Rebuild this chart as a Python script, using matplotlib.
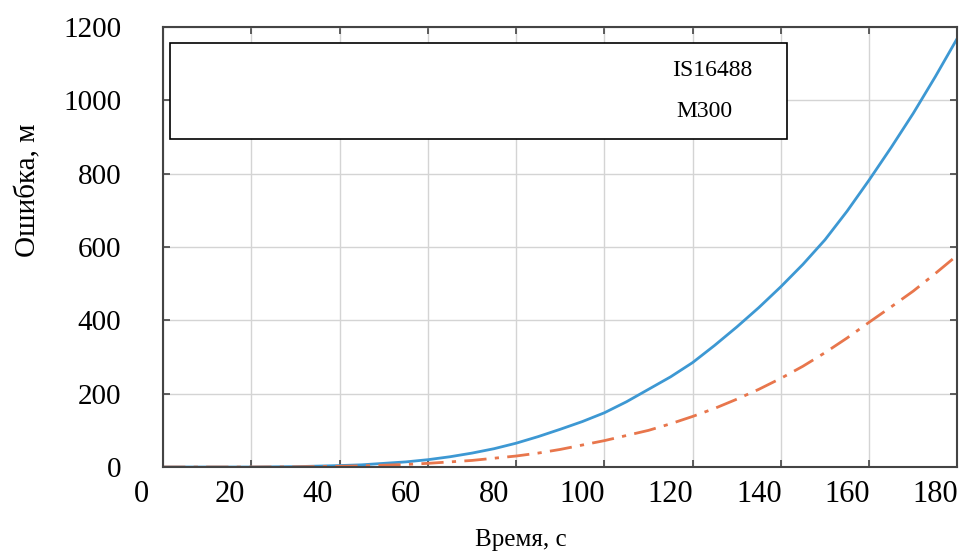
import matplotlib.pyplot as plt
import matplotlib.transforms as mtransforms
from matplotlib.patches import Rectangle

plt.rcParams["font.family"] = ["Liberation Serif", "DejaVu Serif"]

# time, s
t = [0, 10, 20, 30, 40, 45, 50, 55, 60, 65, 70, 75, 80, 85, 90, 95, 100, 105, 110,
     115, 120, 125, 130, 135, 140, 145, 150, 155, 160, 165, 170, 175, 180]
# error, m
err_is16488 = [0, 0, 0, 1, 4, 6, 10, 14, 20, 28, 38, 50, 65, 83, 103, 124, 148, 178, 212,
               246, 285, 332, 382, 435, 492, 553, 620, 698, 783, 872, 965, 1065, 1170]
err_m300 = [0, 0, 0, 0.5, 2, 3, 5, 7, 10, 14, 18, 24, 30, 38, 48, 60, 72, 86, 100,
            118, 138, 160, 185, 212, 242, 275, 312, 352, 395, 437, 480, 528, 578]
legend_labels = ["IS16488", "M300"]
x_ticks = [0, 20, 40, 60, 80, 100, 120, 140, 160, 180]
y_ticks = [0, 200, 400, 600, 800, 1000, 1200]

fig = plt.figure(figsize=(9.71, 5.54), dpi=100)
ax = fig.add_axes([0.168, 0.157, 0.818, 0.794])

ax.plot(t, err_is16488, color="#3d98d3", lw=2.0)
ax.plot(t, err_m300, color="#e8764c", lw=2.0, linestyle=(0, (8, 3, 1.5, 3)))

ax.set_xlim(0, 180)
ax.set_ylim(0, 1200)
ax.set_xticks(x_ticks)
ax.set_yticks(y_ticks)
ax.grid(True, color="#d4d4d4", lw=1.0)
ax.set_axisbelow(True)

for s in ax.spines.values():
    s.set_color("#444444")
    s.set_linewidth(1.5)
ax.tick_params(axis="both", direction="in", length=5, width=1.2, color="#444444",
               top=True, right=True, labelsize=21)
ax.tick_params(axis="y", pad=30)
ax.tick_params(axis="x", pad=9, labelsize=22)

# scanned original has x tick labels shifted left of their gridlines
shift = mtransforms.ScaledTranslation(-22 / 100, 0, fig.dpi_scale_trans)
for lbl in ax.get_xticklabels():
    lbl.set_transform(lbl.get_transform() + shift)

ax.set_xlabel("Время, с", fontsize=18)
ax.xaxis.set_label_coords(0.45, -0.14)
ax.set_ylabel("Ошибка, м", fontsize=21)
ax.yaxis.set_label_coords(-0.153, 0.63)

# legend box (line samples are cut off in the original)
ax.add_patch(Rectangle((0.009, 0.745), 0.777, 0.22, transform=ax.transAxes,
                       facecolor="white", edgecolor="black", lw=1.2, zorder=5))
ax.text(0.641, 0.902, legend_labels[0], transform=ax.transAxes, fontsize=17,
        va="center", ha="left", zorder=6)
ax.text(0.646, 0.808, legend_labels[1], transform=ax.transAxes, fontsize=17,
        va="center", ha="left", zorder=6)

fig.savefig("out.png", dpi=100)
